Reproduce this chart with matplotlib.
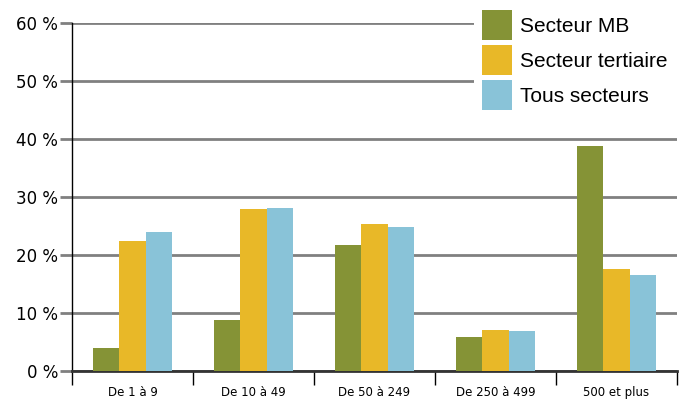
import numpy as np
from matplotlib import pyplot as plt
from matplotlib.patches import Rectangle
from matplotlib.ticker import FixedLocator, FuncFormatter

# Données
categories = ["De 1 à 9", "De 10 à 49", "De 50 à 249", "De 250 à 499", "500 et plus"]
secteur_mb = [4.0, 8.8, 21.7, 5.9, 38.8]
secteur_tertiaire = [22.4, 27.9, 25.3, 7.1, 17.6]
tous_secteurs = [24.0, 28.1, 24.8, 6.9, 16.6]

series = [
    ("Secteur MB", secteur_mb, "#859336"),
    ("Secteur tertiaire", secteur_tertiaire, "#e8b828"),
    ("Tous secteurs", tous_secteurs, "#89c3d8"),
]

fig = plt.figure(figsize=(6.88, 4.0), dpi=100)
ax = fig.add_axes([72 / 688, 29 / 400, 605 / 688, 348 / 400])

x = np.arange(len(categories))
largeur = 0.22
handles = []
for i, (nom, valeurs, couleur) in enumerate(series):
    b = ax.bar(x + (i - 1) * largeur, valeurs, width=largeur, color=couleur, label=nom, zorder=3)
    handles.append(b)

ax.set_xlim(-0.5, len(categories) - 0.5)
ax.set_ylim(0, 60)

# Grille horizontale grise
ax.set_yticks(np.arange(0, 61, 10))
ax.yaxis.set_major_formatter(FuncFormatter(lambda v, p: f"{int(v)} %"))
ax.grid(axis="y", color="#808080", linewidth=2)
ax.set_axisbelow(True)
ax.tick_params(axis="y", length=9, width=2, color="#808080", labelsize=12, pad=1)

# Étiquettes des catégories et séparateurs
ax.set_xticks(x)
ax.set_xticklabels(categories, fontsize=8.5)
ax.tick_params(axis="x", which="major", length=0, pad=11)
ax.xaxis.set_minor_locator(FixedLocator(np.arange(-0.5, len(categories), 1.0)))
ax.tick_params(axis="x", which="minor", length=10, width=1, color="black")

for s in ["top", "right"]:
    ax.spines[s].set_visible(False)
ax.spines["left"].set_linewidth(1)
ax.spines["bottom"].set_linewidth(2)
ax.spines["bottom"].set_color("#333333")

# Fond blanc derrière la légende (masque la grille)
fig.patches.append(Rectangle((474 / 688, 1 - 114 / 400), 214 / 688, 114 / 400,
                             transform=fig.transFigure, facecolor="white",
                             edgecolor="none", zorder=2))

leg = fig.legend(handles=handles, loc="upper left", bbox_to_anchor=(482 / 688, 1 - 10 / 400),
                 frameon=False, handlelength=1.42, handleheight=1.84, labelspacing=0.24,
                 handletextpad=0.42, borderpad=0, borderaxespad=0,
                 prop={"family": "Liberation Sans", "size": 15})
leg.set_zorder(3)

fig.savefig("out.png", dpi=100)
